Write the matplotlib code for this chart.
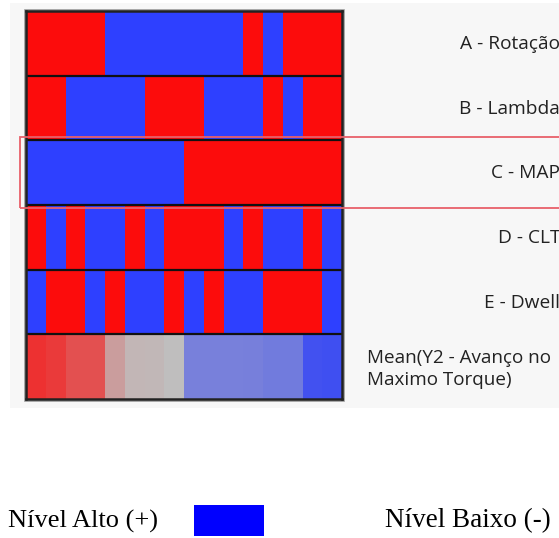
import numpy as np
import matplotlib
matplotlib.use('Agg')
import matplotlib.pyplot as plt
from matplotlib.colors import ListedColormap, LinearSegmentedColormap
from matplotlib.patches import Rectangle

# factor levels per run (1 = alto/+ , -1 = baixo/-)
factors = ['A - Rotação', 'B - Lambda', 'C - MAP', 'D - CLT', 'E - Dwell']
rotacao = [-1,-1,-1,-1, 1,1,1,1,1,1,1, -1, 1, -1,-1,-1]
lambda_ = [-1,-1, 1,1,1,1, -1,-1,-1, 1,1,1, -1, 1, -1,-1]
mapa    = [1,1,1,1,1,1,1,1, -1,-1,-1,-1,-1,-1,-1,-1]
clt     = [-1, 1, -1, 1,1, -1, 1, -1,-1,-1, 1, -1, 1,1, -1, 1]
dwell   = [1, -1,-1, 1, -1, 1,1, -1, 1, -1, 1,1, -1,-1,-1, 1]
# mean of Y2 (normalised) per run
mean_y2 = [0.93,0.88,0.73,0.73,0.22,0.06,0.05,0.0,-0.54,-0.54,-0.54,-0.55,-0.59,-0.59,-0.95,-0.97]
mean_label = 'Mean(Y2 - Avanço no\nMaximo Torque)'

W, H = 559, 538
fig = plt.figure(figsize=(W/100, H/100), dpi=100)
fig.patch.set_facecolor('white')

# light gray panel behind
fig.patches.append(Rectangle((10/W, 1-408/H), (W-10)/W, 405/H, transform=fig.transFigure,
                             facecolor='#f7f7f7', edgecolor='none', zorder=-5))
# soft shadow of the grid border
fig.patches.append(Rectangle((25/W, 1-400.5/H), 318.5/W, 390.5/H, transform=fig.transFigure,
                             facecolor='none', edgecolor='#9a9a9a', lw=1.2, zorder=-4))

ax = fig.add_axes([26/W, 1-399/H, 316/W, 388/H])
ax.set_zorder(2)
lvl_cmap = ListedColormap(['#fc0c0c', '#2e40ff'])
mean_cmap = LinearSegmentedColormap.from_list('m', ['#3c4cf2', '#bfbfbf', '#f02828'])

rows = [rotacao, lambda_, mapa, clt, dwell]
x = np.arange(len(mean_y2)+1)
for i, r in enumerate(rows):
    ax.pcolormesh(x, [i, i+1], np.array(r)[None, :], cmap=lvl_cmap, vmin=-1, vmax=1)
ax.pcolormesh(x, [5, 6], np.array(mean_y2)[None, :], cmap=mean_cmap, vmin=-1, vmax=1)
for i in range(1, 6):
    ax.axhline(i, color='#111111', lw=1.6)
ax.set_xlim(0, 16)
ax.set_ylim(6, 0)
ax.set_xticks([])
ax.set_yticks([])
for s in ax.spines.values():
    s.set_color('#222222')
    s.set_linewidth(1.8)

# labels on the right
font = 'Open Sans'
for i, f in enumerate(factors):
    fig.text(560/W, 1-(44+64.7*i)/H, f, ha='right', va='center', fontsize=13.8,
             family=font, color='#222222')
fig.text(367/W, 1-369/H, mean_label, ha='left', va='center', fontsize=13.6,
         family=font, color='#222222', linespacing=1.25)

# highlight box around C
fig.patches.append(Rectangle((20/W, 1-208/H), 560/W, 71/H, transform=fig.transFigure,
                             facecolor='none', edgecolor='#e8606a', lw=1.3, zorder=5))

# legend at bottom
fig.text(8/W, 1-521/H, 'Nível Alto (+)', ha='left', va='center', fontsize=19,
         family='Liberation Serif', color='black')
fig.patches.append(Rectangle((194/W, 1-536/H), 70/W, 31/H, transform=fig.transFigure,
                             facecolor='#0000ff', edgecolor='none'))
fig.text(385/W, 1-521/H, 'Nível Baixo (-)', ha='left', va='center', fontsize=19.5,
         family='Liberation Serif', color='black')

fig.savefig('out.png', dpi=100)
